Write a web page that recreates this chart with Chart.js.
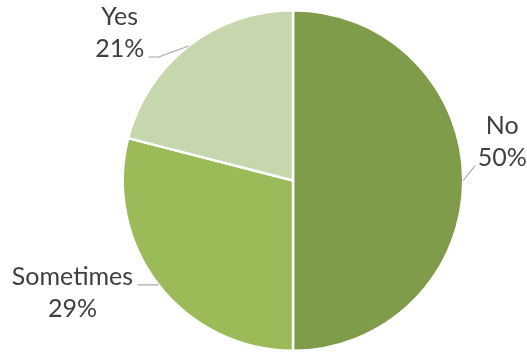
<!DOCTYPE html>
<html>
<head>
<meta charset="utf-8">
<script src="https://cdn.jsdelivr.net/npm/chart.js@4"></script>
<style>
  html, body { margin: 0; padding: 0; background: #fff; }
  .box { width: 527px; height: 352px; position: relative; }
</style>
</head>
<body>
<div class="box"><canvas class="chart"></canvas></div>
<script>
var categorias = ["No", "Sometimes", "Yes"];
var valores = [50, 29, 21];
var cores = ["#7f9c4a", "#9bbb59", "#c6d6ad"];

// where each label sits, relative to the point of the slice edge (dx, dy of the text block centre)
// and the bend of its leader line
var rotulos = [
    { dx: 39, dy: -39, bend: [12, -15], end: [12, -15] },
    { dx: -86, dy: 8, bend: [-21, 0], end: [-21, 0] },
    { dx: -69, dy: -13, bend: [-30, 11], end: [-40, 11] }
];

var rotulosPlugin = {
    id: 'rotulos',
    afterDatasetsDraw(chart) {
        var ctx = chart.ctx;
        var meta = chart.getDatasetMeta(0);
        var total = valores.reduce((a, b) => a + b, 0);
        ctx.save();
        ctx.font = '25px Lato';
        ctx.fillStyle = '#404040';
        ctx.textAlign = 'center';
        ctx.textBaseline = 'middle';
        meta.data.forEach((arc, i) => {
            var meio = (arc.startAngle + arc.endAngle) / 2;
            var x0 = arc.x + Math.cos(meio) * arc.outerRadius;
            var y0 = arc.y + Math.sin(meio) * arc.outerRadius;
            var r = rotulos[i];
            ctx.strokeStyle = '#a6a6a6';
            ctx.lineWidth = 1.2;
            ctx.beginPath();
            ctx.moveTo(x0, y0);
            ctx.lineTo(x0 + r.bend[0], y0 + r.bend[1]);
            ctx.lineTo(x0 + r.end[0], y0 + r.end[1]);
            ctx.stroke();
            var pct = Math.round(valores[i] / total * 100) + '%';
            var cx = x0 + r.dx, cy = y0 + r.dy;
            ctx.fillText(categorias[i], cx, cy - 16);
            ctx.fillText(pct, cx, cy + 16);
        });
        ctx.restore();
    }
};

var ct = document.getElementsByClassName("chart");

var grafico = new Chart(ct, {
    type: 'pie',
    data: {
        labels: categorias,
        datasets: [{
            data: valores,
            backgroundColor: cores,
            borderColor: '#ffffff',
            borderWidth: 2.5,
        }]
    },
    options: {
        responsive: true,
        maintainAspectRatio: false,
        animation: false,
        layout: {
            padding: { top: 9, bottom: -1, left: 121, right: 62 }
        },
        plugins: {
            legend: { display: false },
            tooltip: { enabled: false }
        }
    },
    plugins: [rotulosPlugin]
})
</script>
</body>
</html>
